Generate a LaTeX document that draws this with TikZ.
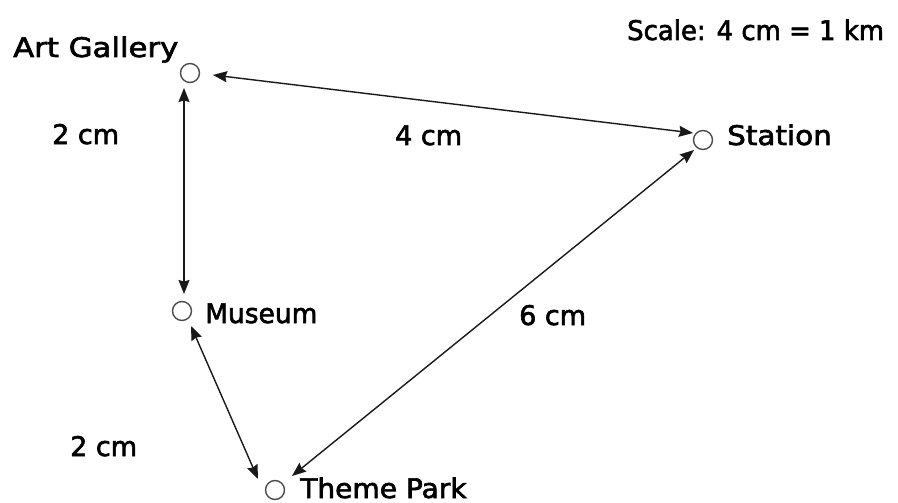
\documentclass[tikz,border=0pt]{standalone}
\usepackage{fontspec}
\setmainfont{DejaVu Sans}[BoldFont={DejaVu Sans},BoldFeatures={FakeBold=2.2}]
\usetikzlibrary{arrows.meta}
\tikzset{
  place/.style={circle,draw=black!70,line width=1.4pt,minimum size=19pt,inner sep=0pt},
  lbl/.style={inner sep=0pt,anchor=base west,font=\fontsize{27}{32}\selectfont\bfseries},
  link/.style={line width=1.4pt,draw=black!90,
    {Stealth[length=14pt,width=11pt,inset=1.5pt]}-{Stealth[length=14pt,width=11pt,inset=1.5pt]}}
}
\begin{document}
\begin{tikzpicture}[x=1pt,y=-1pt]
\useasboundingbox[fill=white] (0,0) rectangle (898,503);
% places
\node[place] (ag) at (190,73) {};
\node[place] (st) at (703,140) {};
\node[place] (mu) at (182,311) {};
\node[place] (tp) at (275,490) {};
% arrow ends
\coordinate (agE) at (213,75);
\coordinate (stW) at (693,133);
\coordinate (agS) at (184,88);
\coordinate (muN) at (184,294);
\coordinate (muSE) at (191,326);
\coordinate (tpNW) at (258,479);
\coordinate (stSW) at (694,150);
\coordinate (tpNE) at (292,476);
% connectors
\draw[link] (agE) -- (stW);
\draw[link] (agS) -- (muN);
\draw[link] (muSE) -- (tpNW);
\draw[link] (stSW) -- (tpNE);
% labels
\node[lbl] (tAG) at (13,57) {\scalebox{1.14}[1]{Art Gallery}};
\node[lbl] (tSc) at (627,40) {\scalebox{0.96}[1]{Scale: 4 cm = 1 km}};
\node[lbl] (tD1) at (52,144) {2 cm};
\node[lbl] (tD2) at (395,145) {4 cm};
\node[lbl] (tSt) at (727,145) {\scalebox{1.09}[1]{Station}};
\node[lbl] (tMu) at (205,323) {\scalebox{0.98}[1]{Museum}};
\node[lbl] (tD3) at (519,325) {6 cm};
\node[lbl] (tD4) at (70,456) {2 cm};
\node[lbl] (tTP) at (300,498) {\scalebox{1.04}[1]{Theme Park}};
\end{tikzpicture}
\end{document}
